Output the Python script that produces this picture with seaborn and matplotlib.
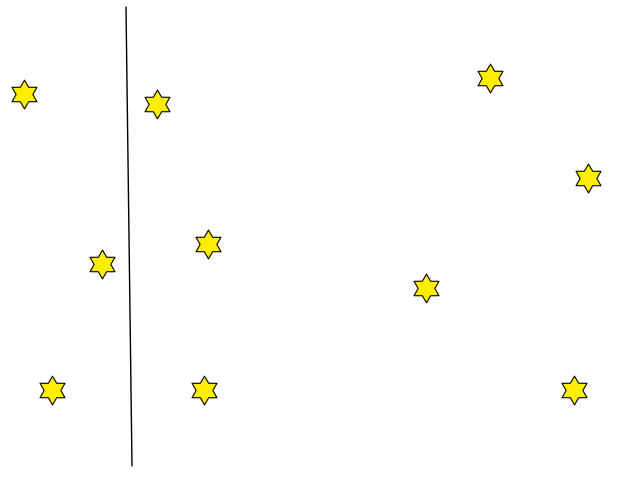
import numpy as np
import pandas as pd
import seaborn as sns
import matplotlib
matplotlib.use('Agg')
import matplotlib.pyplot as plt
from matplotlib.path import Path

# star positions (pixel coords, y down)
star_x = [24, 157, 102, 208, 52, 204, 490, 588, 426, 574]
star_y = [94, 104, 264, 244, 390, 390, 78, 178, 288, 390]

# the thin near-vertical line
line_x = [126, 132]
line_y = [7, 466]

# six pointed star, a bit fatter than matplotlib's own
ang = np.pi / 2 + np.arange(12) * np.pi / 6
rad = np.where(np.arange(12) % 2 == 0, 1.0, 0.58)
verts = np.column_stack([rad * np.cos(ang), rad * np.sin(ang)])
verts = np.vstack([verts, verts[:1]])
star = Path(verts, closed=True)

sns.set_style('white')

fig = plt.figure(figsize=(6.4, 4.8), dpi=100)
ax = fig.add_axes([0, 0, 1, 1])

ax.plot(line_x, line_y, color='black', lw=1.0)

stars = pd.DataFrame({'x': star_x, 'y': star_y})
sns.scatterplot(data=stars, x='x', y='y', ax=ax, marker=star, s=430,
                color='#ffee00', edgecolor='black', linewidth=0.8, zorder=3)

ax.set_xlim(0, 640)
ax.set_ylim(480, 0)
ax.set_axis_off()

plt.savefig('out.png', dpi=100)
plt.close()
